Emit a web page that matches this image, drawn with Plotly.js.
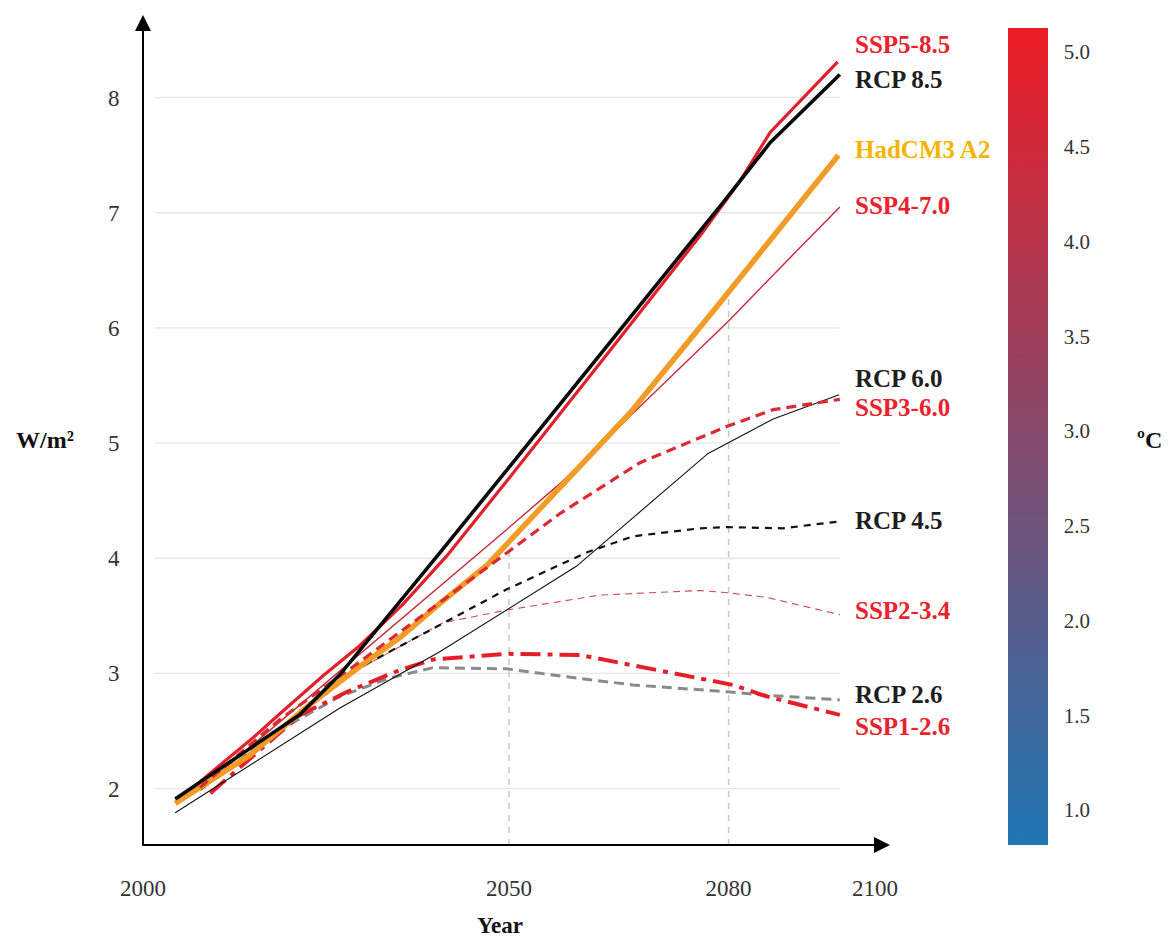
<!DOCTYPE html>
<html>
<head>
<meta charset="utf-8">
<script src="https://cdn.plot.ly/plotly-3.0.1.min.js"></script>
<style>html,body{margin:0;padding:0;background:#fff;}#chart{width:1172px;height:942px;}</style>
</head>
<body>
<div id="chart"></div>
<script>
// ---------- data ----------
const rcp85Years = [2004.4, 2014.6, 2021.4, 2026.9, 2029.6, 2035.1, 2040.6, 2079.5, 2085.7, 2095.2];
const rcp85Values = [1.91, 2.35, 2.64, 2.99, 3.20, 3.62, 4.05, 7.11, 7.61, 8.20];

const ssp585Years = [2007.8, 2015.0, 2018.7, 2024.6, 2029.6, 2035.5, 2041.5, 2049.7, 2062.4, 2076.1, 2081.6, 2085.7, 2094.9];
const ssp585Values = [2.06, 2.44, 2.65, 2.98, 3.24, 3.60, 4.02, 4.67, 5.69, 6.80, 7.28, 7.70, 8.31];

const hadYears = [2004.4, 2014.6, 2022.4, 2029.6, 2035.1, 2040.6, 2047.0, 2066.5, 2079.1, 2095.0];
const hadValues = [1.87, 2.29, 2.71, 3.06, 3.31, 3.61, 3.94, 5.26, 6.24, 7.50];

const ssp470Years = [2008.5, 2018.7, 2029.6, 2049.7, 2057.0, 2068.9, 2080.0, 2088.4, 2095.2];
const ssp470Values = [2.03, 2.58, 3.16, 4.25, 4.65, 5.38, 6.06, 6.61, 7.05];

const ssp360Years = [2007.8, 2018.7, 2029.6, 2040.6, 2049.7, 2057.0, 2067.9, 2080.0, 2086.1, 2095.2];
const ssp360Values = [2.01, 2.60, 3.10, 3.62, 4.05, 4.39, 4.83, 5.15, 5.29, 5.38];

const rcp60Years = [2004.4, 2026.9, 2040.6, 2049.7, 2059.2, 2077.2, 2086.1, 2095.1];
const rcp60Values = [1.79, 2.70, 3.19, 3.55, 3.93, 4.91, 5.21, 5.42];

const rcp45Years = [2007.8, 2016.0, 2029.6, 2039.6, 2049.7, 2060.6, 2066.9, 2076.1, 2079.9, 2087.4, 2095.2];
const rcp45Values = [1.99, 2.38, 3.05, 3.39, 3.73, 4.05, 4.19, 4.26, 4.27, 4.26, 4.32];

const ssp234Years = [2007.8, 2016.0, 2029.6, 2041.0, 2049.7, 2062.4, 2076.1, 2079.9, 2085.2, 2095.2];
const ssp234Values = [1.99, 2.38, 3.04, 3.44, 3.55, 3.68, 3.72, 3.70, 3.66, 3.51];

const ssp126Years = [2009.2, 2016.0, 2021.5, 2027.9, 2035.1, 2039.6, 2049.7, 2059.7, 2066.9, 2075.1, 2080.6, 2085.2, 2095.2];
const ssp126Values = [1.96, 2.34, 2.64, 2.84, 3.03, 3.12, 3.17, 3.16, 3.07, 2.97, 2.90, 2.80, 2.64];

const rcp26Years = [2007.8, 2018.7, 2026.9, 2033.7, 2039.6, 2049.7, 2057.9, 2066.9, 2079.9, 2085.2, 2095.2];
const rcp26Values = [1.99, 2.51, 2.80, 2.96, 3.05, 3.04, 2.97, 2.90, 2.84, 2.81, 2.77];

const xTickValues = [2000, 2050, 2080, 2100];
const xTickLabels = ['2000', '2050', '2080', '2100'];
const yTickValues = [2, 3, 4, 5, 6, 7, 8];
const yTickLabels = ['2', '3', '4', '5', '6', '7', '8'];
const refYears = [2050, 2080];
const refTops = [4.05, 6.33];
const tempTickValues = [1.0, 1.5, 2.0, 2.5, 3.0, 3.5, 4.0, 4.5, 5.0];
const tempTickLabels = ['1.0', '1.5', '2.0', '2.5', '3.0', '3.5', '4.0', '4.5', '5.0'];

const seriesNames = ['RCP 2.6', 'SSP1-2.6', 'SSP2-3.4', 'RCP 6.0', 'RCP 4.5', 'SSP4-7.0', 'HadCM3 A2', 'SSP3-6.0', 'SSP5-8.5', 'RCP 8.5'];
const labelTexts = ['SSP5-8.5', 'RCP 8.5', 'HadCM3 A2', 'SSP4-7.0', 'RCP 6.0', 'SSP3-6.0', 'RCP 4.5', 'SSP2-3.4', 'RCP 2.6', 'SSP1-2.6'];

// ---------- styling ----------
const SERIF = '"Liberation Serif", "Times New Roman", serif';
const RED = '#e3202a';
const LABEL_RED = '#e8232d';
const DARK = '#1e1e1e';
const GOLD = '#f6b400';

const X0 = 2000, X1 = 2102.05, Y0 = 1.51, Y1 = 8.717;

function line(name, xs, ys, color, width, dash) {
  return {type: 'scatter', mode: 'lines', name: name, x: xs, y: ys,
    line: {color: color, width: width, dash: dash || 'solid'}, hoverinfo: 'x+y+name'};
}

const traces = [
  line(seriesNames[0], rcp26Years, rcp26Values, '#8a8a8a', 3, '10px,6px'),
  line(seriesNames[1], ssp126Years, ssp126Values, RED, 4, '20px,7px,5px,7px'),
  line(seriesNames[2], ssp234Years, ssp234Values, '#cf4a52', 1.1, '7px,5px'),
  line(seriesNames[3], rcp60Years, rcp60Values, '#111111', 1.1),
  line(seriesNames[4], rcp45Years, rcp45Values, '#111111', 2.2, '7px,6px'),
  line(seriesNames[5], ssp470Years, ssp470Values, '#c42a36', 1.4),
  line(seriesNames[6], hadYears, hadValues, '#f29b26', 5.5),
  line(seriesNames[7], ssp360Years, ssp360Values, '#dc2a32', 3.2, '10px,6px'),
  line(seriesNames[8], ssp585Years, ssp585Values, RED, 3.2),
  line(seriesNames[9], rcp85Years, rcp85Values, '#0a0a0a', 3.6),
  {
    type: 'scatter', mode: 'markers', x: [X0], y: [Y0 - 5], showlegend: false, hoverinfo: 'skip',
    marker: {
      color: [3], cmin: 0.815, cmax: 5.127, size: 1,
      colorscale: [[0, '#1f77b4'], [1, '#ed1c24']], showscale: true,
      colorbar: {
        x: 1.158, xanchor: 'left', xpad: 0, y: 0, yanchor: 'bottom', ypad: 0,
        len: 0.984, lenmode: 'fraction', thickness: 40, thicknessmode: 'pixels',
        outlinewidth: 0, tickmode: 'array', tickvals: tempTickValues, ticktext: tempTickLabels,
        ticks: 'outside', ticklen: 12, tickcolor: 'rgba(0,0,0,0)',
        tickfont: {family: SERIF, size: 21, color: '#333'}
      }
    }
  }
];

// shapes: horizontal grid and vertical reference dashes
const shapes = [];
yTickValues.forEach(v => {
  shapes.push({type: 'line', xref: 'x', yref: 'y', x0: 2001.6, x1: 2095.2, y0: v, y1: v,
    line: {color: '#e6e6e6', width: 1.3}, layer: 'below'});
});
refYears.forEach((yr, i) => {
  shapes.push({type: 'line', xref: 'x', yref: 'y', x0: yr, x1: yr, y0: Y0, y1: refTops[i],
    line: {color: '#c8c8c8', width: 1.5, dash: '6px,6px'}, layer: 'below'});
});

// annotations
const labelY = [8.465, 8.153, 7.545, 7.06, 5.565, 5.305, 4.33, 3.543, 2.813, 2.535];
const labelColors = [LABEL_RED, DARK, GOLD, LABEL_RED, DARK, LABEL_RED, DARK, LABEL_RED, DARK, LABEL_RED];
const annotations = labelTexts.map((t, i) => ({
  text: '<b>' + t + '</b>', x: 2097, y: labelY[i], xref: 'x', yref: 'y',
  xanchor: 'left', yanchor: 'middle', showarrow: false,
  font: {family: SERIF, size: 25, color: labelColors[i]}
}));
// axis arrows
annotations.push({x: 0, y: 1, xref: 'paper', yref: 'paper', text: '', showarrow: true,
  ax: 0, ay: 832, axref: 'pixel', ayref: 'pixel', arrowhead: 2, arrowsize: 1.6, arrowwidth: 2, arrowcolor: '#000', standoff: 0, startstandoff: 0});
annotations.push({x: 1, y: 0, xref: 'paper', yref: 'paper', text: '', showarrow: true,
  ax: -749, ay: 0, axref: 'pixel', ayref: 'pixel', arrowhead: 2, arrowsize: 1.6, arrowwidth: 2, arrowcolor: '#000', standoff: 0, startstandoff: 0});
// axis titles
annotations.push({text: '<b>W/m²</b>', x: -0.131, y: 0.488, xref: 'paper', yref: 'paper',
  xanchor: 'center', yanchor: 'middle', showarrow: false, font: {family: SERIF, size: 24, color: '#111'}});
annotations.push({text: '<b>ºC</b>', x: 1.348, y: 0.488, xref: 'paper', yref: 'paper',
  xanchor: 'center', yanchor: 'middle', showarrow: false, font: {family: SERIF, size: 24, color: '#111'}});
annotations.push({text: '<b>Year</b>', x: 0.478, y: -0.0964, xref: 'paper', yref: 'paper',
  xanchor: 'center', yanchor: 'middle', showarrow: false, font: {family: SERIF, size: 23, color: '#111'}});

const layout = {
  width: 1172, height: 942,
  font: {family: SERIF, color: '#333'},
  margin: {l: 143, r: 282, t: 15, b: 97, pad: 0},
  paper_bgcolor: '#fff', plot_bgcolor: '#fff',
  showlegend: false,
  xaxis: {range: [X0, X1], showgrid: false, zeroline: false, showline: false,
    tickmode: 'array', tickvals: xTickValues, ticktext: xTickLabels,
    ticks: 'outside', ticklen: 22, tickcolor: 'rgba(0,0,0,0)',
    tickfont: {family: SERIF, size: 23, color: '#333'}, fixedrange: true},
  yaxis: {range: [Y0, Y1], showgrid: false, zeroline: false, showline: false,
    tickmode: 'array', tickvals: yTickValues, ticktext: yTickLabels,
    ticks: 'outside', ticklen: 18, tickcolor: 'rgba(0,0,0,0)',
    tickfont: {family: SERIF, size: 23, color: '#333'}, fixedrange: true},
  shapes: shapes,
  annotations: annotations
};

Plotly.newPlot('chart', traces, layout, {displayModeBar: false, staticPlot: true});
</script>
</body>
</html>
